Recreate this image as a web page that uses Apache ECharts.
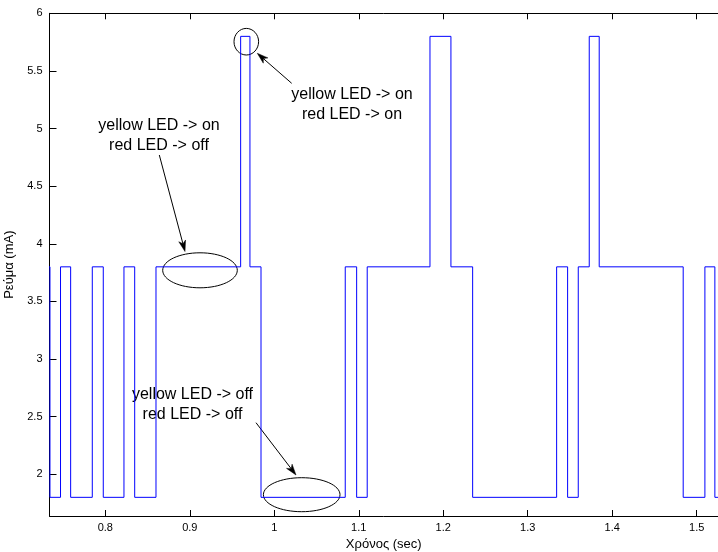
<!DOCTYPE html>
<html>
<head>
<meta charset="utf-8">
<script src="https://cdn.jsdelivr.net/npm/echarts@6/dist/echarts.min.js"></script>
<style>html,body{margin:0;padding:0;background:#fff}#c{width:718px;height:552px}</style>
</head>
<body>
<div id="c"></div>
<script>
// transition times (sec) and the current level held from that time on (mA)
const times  = [0.72, 0.7345, 0.747, 0.759, 0.7846, 0.7976, 0.8221, 0.8348, 0.860, 0.9602, 0.9712, 0.9843, 1.084, 1.0975, 1.110, 1.1843, 1.2091, 1.2348, 1.3342, 1.3472, 1.3598, 1.3728, 1.3846, 1.484, 1.5097, 1.5215, 1.53];
const levels = [3.8, 1.8, 3.8, 1.8, 3.8, 1.8, 3.8, 1.8, 3.8, 5.8, 3.8, 1.8, 3.8, 1.8, 3.8, 5.8, 3.8, 1.8, 3.8, 1.8, 3.8, 5.8, 3.8, 1.8, 3.8, 1.8, 1.8];
const xTicks = [0.8, 0.9, 1.0, 1.1, 1.2, 1.3, 1.4, 1.5];
const yTicks = [2, 2.5, 3, 3.5, 4, 4.5, 5, 5.5, 6];
const xName = 'Χρόνος (sec)';
const yName = 'Ρεύμα (mA)';
const notes = ['yellow LED -> on\nred LED -> off', 'yellow LED -> on\nred LED -> on', 'yellow LED -> off\nred LED -> off'];

const FONT = 'Liberation Sans, Arial, sans-serif';
const data = times.map((t, i) => [t, levels[i]]);

function arrow(x1, y1, x2, y2) {
  const dx = x2 - x1, dy = y2 - y1, L = Math.hypot(dx, dy);
  const ux = dx / L, uy = dy / L, hl = 11, hw = 3.5;
  const bx = x2 - ux * hl, by = y2 - uy * hl;
  const nx = bx + ux * 3, ny = by + uy * 3;
  return [
    { type: 'line', shape: { x1: x1, y1: y1, x2: x2 - ux * 4, y2: y2 - uy * 4 }, style: { stroke: '#000', lineWidth: 1 } },
    { type: 'polygon', shape: { points: [[x2, y2], [bx - uy * hw, by + ux * hw], [nx, ny], [bx + uy * hw, by - ux * hw]] }, style: { fill: '#000', stroke: '#000', lineWidth: 0.5 } }
  ];
}
function txt(x, y, s) {
  return { type: 'text', x: x, y: y, style: { text: s, font: '16px ' + FONT, fill: '#000', align: 'center', verticalAlign: 'top', lineHeight: 19.7 } };
}
function ell(cx, cy, rx, ry) {
  return { type: 'ellipse', shape: { cx: cx, cy: cy, rx: rx, ry: ry }, style: { fill: null, stroke: '#000', lineWidth: 1 } };
}

const chart = echarts.init(document.getElementById('c'), null, { renderer: 'canvas' });
const axisCommon = {
  type: 'value',
  axisLine: { show: true, onZero: false, lineStyle: { color: '#000', width: 1 } },
  splitLine: { show: false }
};
chart.setOption({
  animation: false,
  backgroundColor: '#fff',
  grid: { left: 49.5, top: 13.3, right: 0, bottom: 36, containLabel: false, outerBoundsMode: 'none' },
  xAxis: [
    Object.assign({}, axisCommon, {
      min: 0.73396, max: 1.5252, position: 'bottom',
      name: xName, nameLocation: 'middle', nameGap: 21,
      nameTextStyle: { fontFamily: FONT, fontSize: 13, color: '#000' },
      axisTick: { show: true, inside: true, length: 6, customValues: xTicks, lineStyle: { color: '#000' } },
      axisLabel: { show: true, customValues: xTicks, margin: 6, fontFamily: FONT, fontSize: 11, color: '#000', formatter: v => (Math.round(v * 10) / 10).toString() }
    }),
    Object.assign({}, axisCommon, {
      min: 0.73396, max: 1.5252, position: 'top',
      axisTick: { show: true, inside: true, length: 6, customValues: xTicks, lineStyle: { color: '#000' } },
      axisLabel: { show: false }
    })
  ],
  yAxis: [
    Object.assign({}, axisCommon, {
      min: 1.638, max: 6,
      name: yName, nameLocation: 'middle', nameGap: 25,
      nameTextStyle: { fontFamily: FONT, fontSize: 13, color: '#000' },
      axisTick: { show: true, inside: true, length: 7, customValues: yTicks, lineStyle: { color: '#000' } },
      axisLabel: { show: true, customValues: yTicks, margin: 7, fontFamily: FONT, fontSize: 11, color: '#000', formatter: v => (Math.round(v * 10) / 10).toString() }
    })
  ],
  series: [{
    type: 'line', step: 'end', data: data, showSymbol: false, clip: true,
    lineStyle: { color: '#0000ff', width: 1 }
  }],
  graphic: [].concat(
    [ell(246.3, 41.7, 12.3, 13.3), ell(200, 270.3, 37.3, 17.5), ell(301.7, 494.7, 38.3, 17)],
    arrow(159.3, 155, 185, 251.5),
    arrow(291.7, 83.3, 257.3, 53.3),
    arrow(256, 422.7, 296, 475),
    [txt(159, 116, notes[0]), txt(352, 85, notes[1]), txt(192.5, 385, notes[2])]
  )
});
</script>
</body>
</html>
